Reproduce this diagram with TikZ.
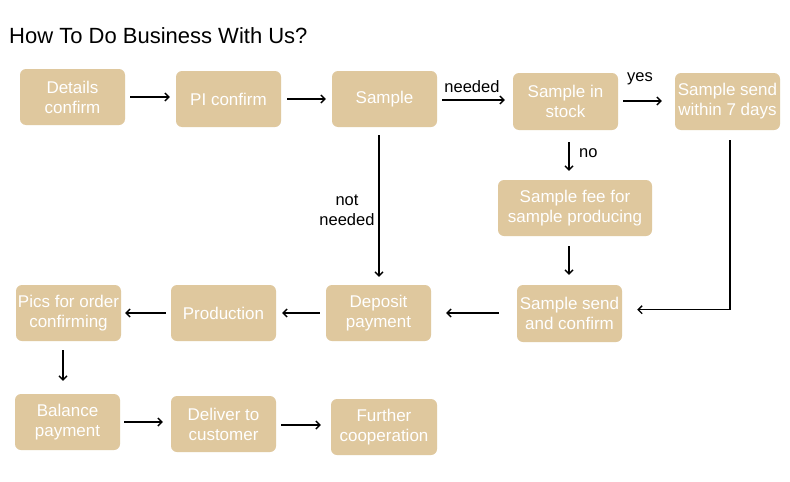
\documentclass[tikz,border=0pt]{standalone}
\usepackage{fontspec}
\setmainfont{Liberation Sans}
\usetikzlibrary{arrows.meta,calc}
\definecolor{boxc}{RGB}{223,200,158}
\begin{document}
\begin{tikzpicture}[x=1pt,y=-1pt,
  box/.style={fill=boxc, rounded corners=6pt, text=white, align=center,
    minimum width=105pt, minimum height=56pt, inner sep=0pt,
    font=\fontsize{17}{20}\selectfont},
  arr/.style={line width=1.4pt, -{Straight Barb[length=4pt,width=8pt]}},
  lbl/.style={font=\fontsize{16.5}{20}\selectfont, align=center, inner sep=0pt}]
\useasboundingbox[fill=white] (0,0) rectangle (790,482);
\node[anchor=base west, inner sep=0pt, font=\fontsize{22}{26}\selectfont] (title) at (9,43) {How To Do Business With Us?};

\node[box] (details) at (72.5,97) {Details\\confirm};
\node[box] (pi) at (228.5,99) {PI confirm};
\node[box] (sample) at (384.5,99) {Sample};
\node[box, minimum height=57pt] (stock) at (565.5,101.5) {Sample in\\stock};
\node[box, minimum height=57pt] (send7) at (727.5,101.5) {Sample send\\within 7 days};
\node[box, minimum width=154pt] (fee) at (575,208) {Sample fee for\\sample producing};
\node[box, minimum height=57pt] (sendconf) at (569.5,313.5) {Sample send\\and confirm};
\node[box] (deposit) at (378.5,313) {Deposit\\payment};
\node[box] (production) at (223.5,313) {Production};
\node[box] (pics) at (68.5,313) {Pics for order\\confirming};
\node[box] (balance) at (67.5,422) {Balance\\payment};
\node[box] (deliver) at (223.5,424) {Deliver to\\customer};
\node[box, minimum width=106pt] (further) at (384,427) {Further\\cooperation};

% top row
\draw[arr] ($(details.east)+(5,0)$) -- ($(details.east -| pi.west)+(-6,0)$);
\draw[arr] ($(pi.east)+(6,0)$) -- ($(pi.east -| sample.west)+(-6,0)$);
\draw[arr] ($(sample.east)+(5,1)$) -- ($(sample.east -| stock.west)+(-8,1)$);
\node[lbl] (lneeded) at (472,87) {needed};
\draw[arr] ($(stock.east)+(5,-0.5)$) -- ($(stock.east -| send7.west)+(-13,-0.5)$);
\node[lbl] (lyes) at (640,79) {yes};

% stock -> fee
\draw[arr] ($(stock.south)+(3.5,12)$) -- ($(stock.south |- fee.north)+(3.5,-9)$);
\node[lbl, anchor=west] (lno) at (579,153) {no};
% fee -> sendconf
\draw[arr] ($(fee.south -| sendconf)+(-0.5,10)$) -- ($(sendconf.north)+(-0.5,-10)$);
% send7 -> sendconf
\coordinate (corner) at ($(send7.south)+(2.5,179.5)$);
\draw[line width=1.4pt, line join=miter, -{Straight Barb[length=4pt,width=8pt]}]
  ($(send7.south)+(2.5,10)$) -- (corner) -- ($(corner -| sendconf.east)+(15,0)$);

% sample -> deposit
\draw[arr] ($(sample.south -| deposit)+(0.5,8)$) -- ($(deposit.north)+(0.5,-8)$);
\node[lbl] (lnot) at (347,210) {not\\needed};

% middle row
\draw[arr] ($(sendconf.west)+(-18,-0.5)$) -- ($(sendconf.west -| deposit.east)+(15,-0.5)$);
\draw[arr] ($(deposit.west)+(-6,0)$) -- ($(deposit.west -| production.east)+(6,0)$);
\draw[arr] ($(production.west)+(-5,0)$) -- ($(production.west -| pics.east)+(4,0)$);

% pics -> balance
\draw[arr] ($(pics.south)+(-5.5,9)$) -- ($(pics.south |- balance.north)+(-5.5,-13)$);

% bottom row
\draw[arr] ($(balance.east)+(4,0)$) -- ($(balance.east -| deliver.west)+(-8,0)$);
\draw[arr] ($(deliver.east)+(5,1)$) -- ($(deliver.east -| further.west)+(-10,1)$);
\end{tikzpicture}
\end{document}
